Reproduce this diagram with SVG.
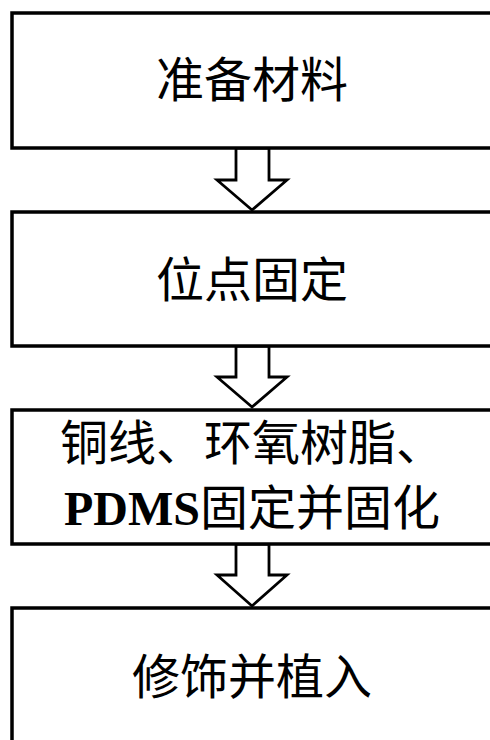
<svg xmlns="http://www.w3.org/2000/svg" width="490" height="740" viewBox="0 0 490 740">
<style>
.box{fill:#fff;stroke:#000;stroke-width:3.5}
.arr{fill:#fff;stroke:#000;stroke-width:2.8;stroke-linejoin:miter}
.t{font-family:"Noto Sans CJK SC","Noto Sans CJK JP",sans-serif;font-size:48px;fill:#000;text-anchor:middle}
.b{font-family:"Liberation Serif",serif;font-weight:bold}
</style>
<rect width="490" height="740" fill="#fff"/>
<g id="connectors">
<polygon class="arr" points="236,148 269,148 269,180 287,180 252,210 217,180 236,180"/>
<polygon class="arr" points="236,346 269,346 269,377 287,377 252,407 217,377 236,377"/>
<polygon class="arr" points="236,544 269,544 269,575 287,575 252,606 217,575 236,575"/>
</g>
<g id="n1">
<rect class="box" x="12" y="13" width="500" height="135"/>
<text class="t" x="252" y="97">准备材料</text>
</g>
<g id="n2">
<rect class="box" x="12" y="212" width="500" height="134"/>
<text class="t" x="252" y="297">位点固定</text>
</g>
<g id="n3">
<rect class="box" x="12" y="410" width="500" height="134"/>
<text class="t" x="252" y="460">铜线、环氧树脂、</text>
<text class="t" x="252" y="525"><tspan class="b">PDMS</tspan>固定并固化</text>
</g>
<g id="n4">
<rect class="box" x="12" y="608" width="500" height="160"/>
<text class="t" x="252" y="694">修饰并植入</text>
</g>
</svg>
